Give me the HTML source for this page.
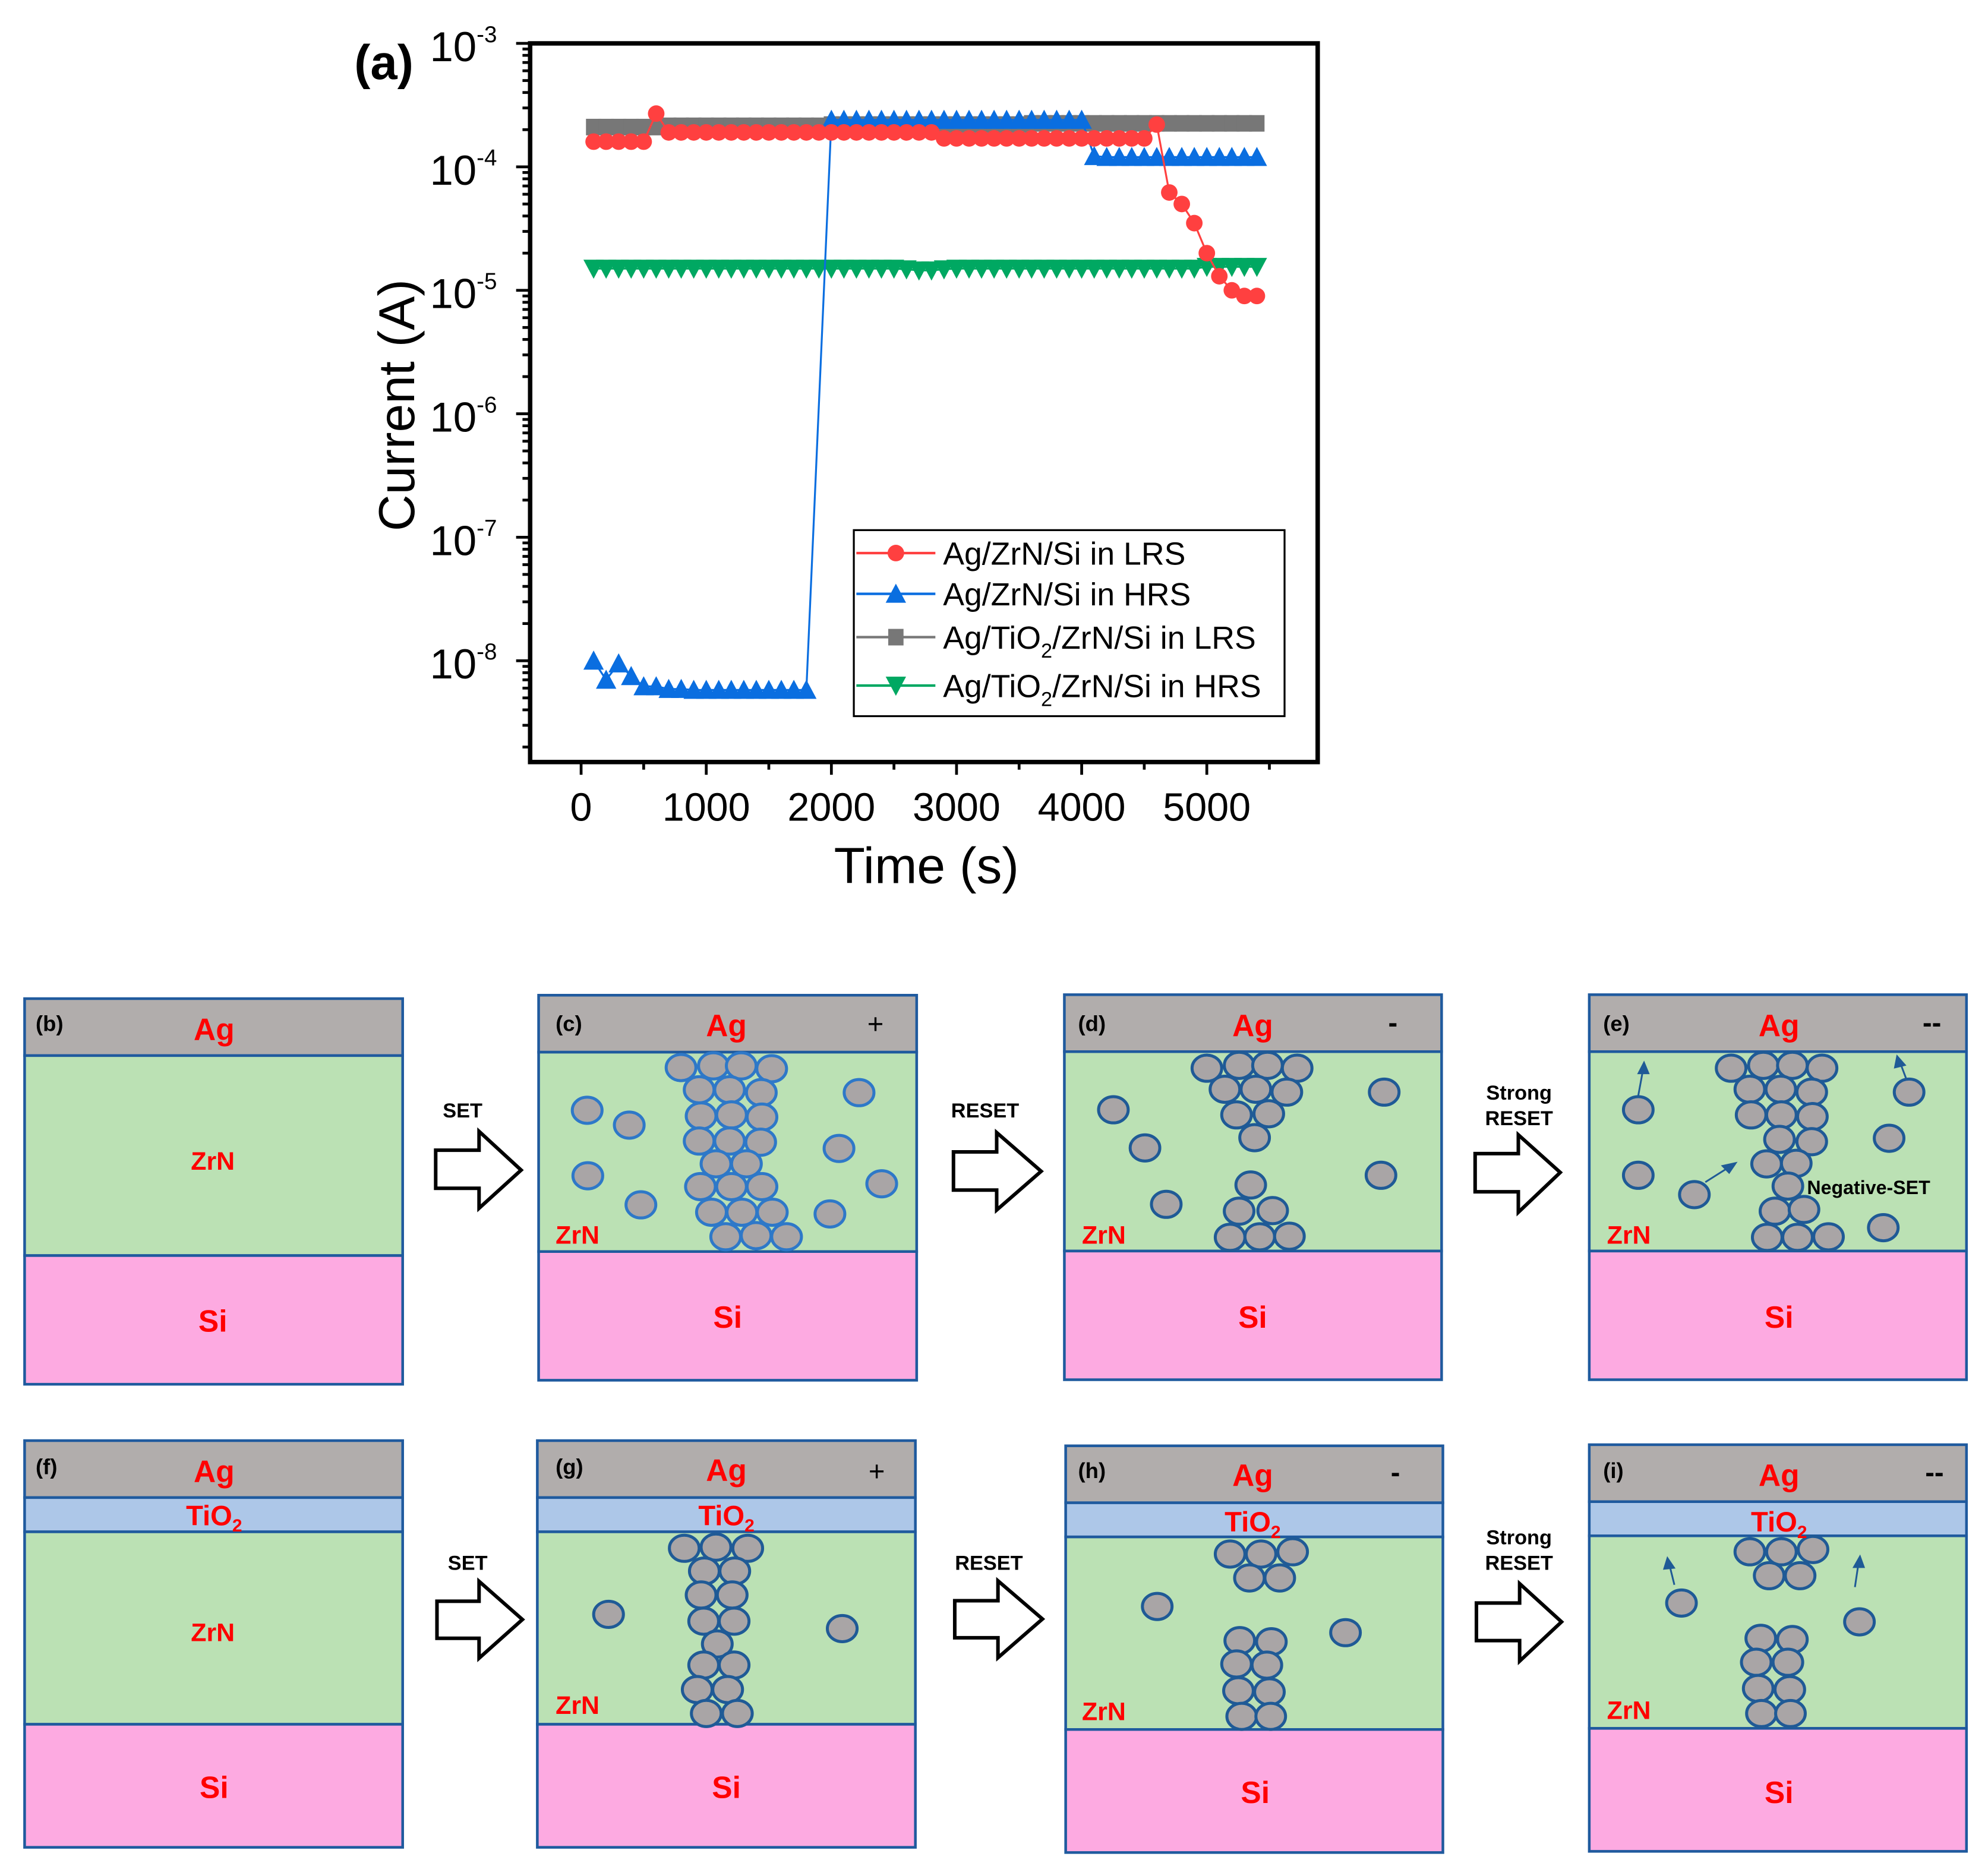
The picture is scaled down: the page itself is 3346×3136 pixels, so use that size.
<!DOCTYPE html>
<html><head><meta charset="utf-8"><style>
html,body{margin:0;padding:0;background:#fff;}
svg{display:block;}
text{font-family:"Liberation Sans",Arial,sans-serif;}
.pb{stroke:#1f5a9e;stroke-width:4.5px;vector-effect:non-scaling-stroke;}
.ar{fill:#fff;stroke:#000;stroke-width:6px;vector-effect:non-scaling-stroke;}
</style></head><body>
<svg id="root" xmlns="http://www.w3.org/2000/svg" width="3346" height="3136" viewBox="0 0 1560 1462">
<rect x="0" y="0" width="1560" height="1462" fill="#fff"/>
<g id="chart"></g>

<g transform="matrix(0.508,0,0,0.447,0,769.4)">
 <g>
  <rect class="pb" x="38" y="32" width="584" height="100" fill="#b1adac"/>
  <rect class="pb" x="38" y="132" width="584" height="351" fill="#bbe1b4"/>
  <rect class="pb" x="38" y="483" width="584" height="226" fill="#fdaae1"/>
 </g>
 <g>
  <rect class="pb" x="832" y="26" width="584" height="100" fill="#b1adac"/>
  <rect class="pb" x="832" y="126" width="584" height="350" fill="#bbe1b4"/>
  <rect class="pb" x="832" y="476" width="584" height="226" fill="#fdaae1"/>
 </g>
 <g>
  <rect class="pb" x="38" y="808" width="584" height="100" fill="#b1adac"/>
  <rect class="pb" x="38" y="908" width="584" height="60" fill="#adc7e8"/>
  <rect class="pb" x="38" y="968" width="584" height="338" fill="#bbe1b4"/>
  <rect class="pb" x="38" y="1306" width="584" height="216" fill="#fdaae1"/>
 </g>
 <g>
  <rect class="pb" x="830" y="808" width="584" height="100" fill="#b1adac"/>
  <rect class="pb" x="830" y="908" width="584" height="60" fill="#adc7e8"/>
  <rect class="pb" x="830" y="968" width="584" height="338" fill="#bbe1b4"/>
  <rect class="pb" x="830" y="1306" width="584" height="216" fill="#fdaae1"/>
 </g>
 <g id="circL"></g>
 <g>
  <path class="ar" d="M673 298 L740 298 L740 265 L805 333 L740 400 L740 365 L673 365 Z"/>
  <path class="ar" d="M675 1090 L740 1090 L740 1055 L807 1122 L740 1190 L740 1155 L675 1155 Z"/>
 </g>
</g>

<g transform="matrix(0.506,0,0,0.447,774,769)">
 <g>
  <rect class="pb" x="121" y="26" width="585" height="100" fill="#b1adac"/>
  <rect class="pb" x="121" y="126" width="585" height="350" fill="#bbe1b4"/>
  <rect class="pb" x="121" y="476" width="585" height="226" fill="#fdaae1"/>
 </g>
 <g>
  <rect class="pb" x="935" y="26" width="585" height="100" fill="#b1adac"/>
  <rect class="pb" x="935" y="126" width="585" height="350" fill="#bbe1b4"/>
  <rect class="pb" x="935" y="476" width="585" height="226" fill="#fdaae1"/>
 </g>
 <g>
  <rect class="pb" x="123" y="818" width="585" height="100" fill="#b1adac"/>
  <rect class="pb" x="123" y="918" width="585" height="60" fill="#adc7e8"/>
  <rect class="pb" x="123" y="978" width="585" height="338" fill="#bbe1b4"/>
  <rect class="pb" x="123" y="1316" width="585" height="216" fill="#fdaae1"/>
 </g>
 <g>
  <rect class="pb" x="935" y="816" width="585" height="100" fill="#b1adac"/>
  <rect class="pb" x="935" y="916" width="585" height="60" fill="#adc7e8"/>
  <rect class="pb" x="935" y="976" width="585" height="338" fill="#bbe1b4"/>
  <rect class="pb" x="935" y="1314" width="585" height="216" fill="#fdaae1"/>
 </g>
 <g id="circR"></g>
 <g stroke="#1f5a96" fill="#1f5a96">
  <line x1="1011" y1="203" x2="1018" y2="160" stroke-width="3px" vector-effect="non-scaling-stroke"/><path d="M1020 143 L1010 165 L1028 165 Z"/>
  <line x1="1427" y1="175" x2="1418" y2="148" stroke-width="3px" vector-effect="non-scaling-stroke"/><path d="M1412 132 L1408 155 L1426 150 Z"/>
  <line x1="1115" y1="355" x2="1150" y2="330" stroke-width="3px" vector-effect="non-scaling-stroke"/><path d="M1164 320 L1140 326 L1152 340 Z"/>
  <line x1="1067" y1="1062" x2="1060" y2="1030" stroke-width="3px" vector-effect="non-scaling-stroke"/><path d="M1056 1013 L1050 1035 L1068 1033 Z"/>
  <line x1="1347" y1="1066" x2="1352" y2="1028" stroke-width="3px" vector-effect="non-scaling-stroke"/><path d="M1355 1010 L1344 1032 L1362 1032 Z"/>
 </g>
 <g>
  <path class="ar" d="M-51 302 L16 302 L16 268 L85 336 L16 404 L16 369 L-51 369 Z"/>
  <path class="ar" d="M-49 1090 L18 1090 L18 1055 L87 1122 L18 1190 L18 1155 L-49 1155 Z"/>
  <path class="ar" d="M758 305 L825 305 L825 272 L890 338 L825 408 L825 372 L758 372 Z"/>
  <path class="ar" d="M760 1094 L827 1094 L827 1060 L892 1127 L827 1196 L827 1160 L760 1160 Z"/>
 </g>
</g>

<g font-weight="bold">
 <g fill="#000" font-size="17">
  <text x="28" y="809">(b)</text><text x="436" y="809">(c)</text><text x="846" y="809">(d)</text><text x="1258" y="809">(e)</text>
  <text x="28" y="1157">(f)</text><text x="436" y="1157">(g)</text><text x="846" y="1160">(h)</text><text x="1258" y="1160">(i)</text>
  <text x="363" y="877" text-anchor="middle" font-size="16">SET</text>
  <text x="367" y="1232" text-anchor="middle" font-size="16">SET</text>
  <text x="773" y="877" text-anchor="middle" font-size="16">RESET</text>
  <text x="776" y="1232" text-anchor="middle" font-size="16">RESET</text>
  <text x="1192" y="863" text-anchor="middle" font-size="16">Strong</text>
  <text x="1192" y="883" text-anchor="middle" font-size="16">RESET</text>
  <text x="1192" y="1212" text-anchor="middle" font-size="16">Strong</text>
  <text x="1192" y="1232" text-anchor="middle" font-size="16">RESET</text>
  <text x="1418" y="937" font-size="15">Negative-SET</text>
  <text x="687" y="811" text-anchor="middle" font-size="22" font-weight="normal">+</text>
  <text x="688" y="1162" text-anchor="middle" font-size="22" font-weight="normal">+</text>
  <text x="1093" y="810" text-anchor="middle" font-size="22">-</text>
  <text x="1095" y="1163" text-anchor="middle" font-size="22">-</text>
  <text x="1516" y="810" text-anchor="middle" font-size="22">--</text>
  <text x="1518" y="1163" text-anchor="middle" font-size="22">--</text>
 </g>
 <g fill="#ff0000" font-size="24" text-anchor="middle">
  <text x="168" y="816">Ag</text><text x="570" y="813">Ag</text><text x="983" y="813">Ag</text><text x="1396" y="813">Ag</text>
  <text x="168" y="1163">Ag</text><text x="570" y="1162">Ag</text><text x="983" y="1166">Ag</text><text x="1396" y="1166">Ag</text>
  <text x="167" y="1045">Si</text><text x="571" y="1042">Si</text><text x="983" y="1042">Si</text><text x="1396" y="1042">Si</text>
  <text x="168" y="1411">Si</text><text x="570" y="1411">Si</text><text x="985" y="1415">Si</text><text x="1396" y="1415">Si</text>
  <text x="167" y="918" font-size="20">ZrN</text><text x="167" y="1288" font-size="20">ZrN</text>
  <text x="168" y="1197" font-size="22">TiO<tspan font-size="14" dy="5">2</tspan></text>
  <text x="570" y="1197" font-size="22">TiO<tspan font-size="14" dy="5">2</tspan></text>
  <text x="983" y="1202" font-size="22">TiO<tspan font-size="14" dy="5">2</tspan></text>
  <text x="1396" y="1202" font-size="22">TiO<tspan font-size="14" dy="5">2</tspan></text>
 </g>
 <g fill="#ff0000" font-size="20">
  <text x="436" y="976">ZrN</text><text x="849" y="976">ZrN</text><text x="1261" y="976">ZrN</text>
  <text x="436" y="1345">ZrN</text><text x="849" y="1350">ZrN</text><text x="1261" y="1349">ZrN</text>
 </g>
</g>
</svg>
<script>
const redTimes=[100,200,300,400,500,600,700,800,900,1000,1100,1200,1300,1400,1500,1600,1700,1800,1900,2000,2100,2200,2300,2400,2500,2600,2700,2800,2900,3000,3100,3200,3300,3400,3500,3600,3700,3800,3900,4000,4100,4200,4300,4400,4500,4600,4700,4800,4900,5000,5100,5200,5300,5400];
const redValues=[1.6e-4,1.6e-4,1.6e-4,1.6e-4,1.6e-4,2.7e-4,1.9e-4,1.9e-4,1.9e-4,1.9e-4,1.9e-4,1.9e-4,1.9e-4,1.9e-4,1.9e-4,1.9e-4,1.9e-4,1.9e-4,1.9e-4,1.9e-4,1.9e-4,1.9e-4,1.9e-4,1.9e-4,1.9e-4,1.9e-4,1.9e-4,1.9e-4,1.7e-4,1.7e-4,1.7e-4,1.7e-4,1.7e-4,1.7e-4,1.7e-4,1.7e-4,1.7e-4,1.7e-4,1.7e-4,1.7e-4,1.7e-4,1.7e-4,1.7e-4,1.7e-4,1.7e-4,2.2e-4,6.2e-5,5.0e-5,3.5e-5,2.0e-5,1.3e-5,1.0e-5,9e-6,9e-6];
const blueTimes=[100,200,300,400,500,600,700,800,900,1000,1100,1200,1300,1400,1500,1600,1700,1800,2000,2100,2200,2300,2400,2500,2600,2700,2800,2900,3000,3100,3200,3300,3400,3500,3600,3700,3800,3900,4000,4100,4200,4300,4400,4500,4600,4700,4800,4900,5000,5100,5200,5300,5400];
const blueValues=[1e-8,7e-9,9.5e-9,7.5e-9,6.2e-9,6.2e-9,5.9e-9,5.9e-9,5.8e-9,5.8e-9,5.8e-9,5.8e-9,5.8e-9,5.8e-9,5.8e-9,5.8e-9,5.8e-9,5.8e-9,2.4e-4,2.4e-4,2.4e-4,2.4e-4,2.4e-4,2.4e-4,2.4e-4,2.4e-4,2.4e-4,2.4e-4,2.4e-4,2.4e-4,2.4e-4,2.4e-4,2.4e-4,2.4e-4,2.4e-4,2.4e-4,2.4e-4,2.4e-4,2.4e-4,1.22e-4,1.2e-4,1.2e-4,1.2e-4,1.2e-4,1.2e-4,1.2e-4,1.2e-4,1.2e-4,1.2e-4,1.2e-4,1.2e-4,1.2e-4,1.2e-4];
const grayTimes=redTimes;
const grayValues=[2.1e-4,2.1e-4,2.1e-4,2.1e-4,2.1e-4,2.1e-4,2.15e-4,2.15e-4,2.15e-4,2.15e-4,2.15e-4,2.15e-4,2.15e-4,2.15e-4,2.15e-4,2.15e-4,2.15e-4,2.15e-4,2.15e-4,2.2e-4,2.2e-4,2.2e-4,2.2e-4,2.2e-4,2.2e-4,2.2e-4,2.2e-4,2.2e-4,2.2e-4,2.2e-4,2.2e-4,2.2e-4,2.2e-4,2.2e-4,2.2e-4,2.25e-4,2.25e-4,2.25e-4,2.25e-4,2.25e-4,2.25e-4,2.25e-4,2.25e-4,2.25e-4,2.25e-4,2.25e-4,2.25e-4,2.25e-4,2.25e-4,2.25e-4,2.25e-4,2.25e-4,2.25e-4,2.25e-4];
const greenTimes=redTimes;
const greenValues=[1.5e-5,1.5e-5,1.5e-5,1.5e-5,1.5e-5,1.5e-5,1.5e-5,1.5e-5,1.5e-5,1.5e-5,1.5e-5,1.5e-5,1.5e-5,1.5e-5,1.5e-5,1.5e-5,1.5e-5,1.5e-5,1.5e-5,1.5e-5,1.5e-5,1.5e-5,1.5e-5,1.5e-5,1.5e-5,1.48e-5,1.45e-5,1.45e-5,1.48e-5,1.5e-5,1.5e-5,1.5e-5,1.5e-5,1.5e-5,1.5e-5,1.5e-5,1.5e-5,1.5e-5,1.5e-5,1.5e-5,1.5e-5,1.5e-5,1.5e-5,1.5e-5,1.5e-5,1.5e-5,1.5e-5,1.5e-5,1.5e-5,1.55e-5,1.55e-5,1.55e-5,1.55e-5,1.55e-5];
const xTickValues=[0,1000,2000,3000,4000,5000];
const xTickLabels=["0","1000","2000","3000","4000","5000"];
const yTickExps=[-3,-4,-5,-6,-7,-8];
const legendLabels=["Ag/ZrN/Si in LRS","Ag/ZrN/Si in HRS","Ag/TiO2/ZrN/Si in LRS","Ag/TiO2/ZrN/Si in HRS"];

const NS="http://www.w3.org/2000/svg";
const L=416,R=1034,T=34,B=598;
function X(t){return 456+t*0.0982;}
function Y(v){return T+(-3-Math.log10(v))*96.9;}
function mk(tag,attrs,parent){const e=document.createElementNS(NS,tag);for(const k in attrs)e.setAttribute(k,attrs[k]);parent.appendChild(e);return e;}
const chart=document.getElementById('chart');

const axes=mk('g',{},chart);


for(let e=-3;e>=-9;e--){
  for(let m=1;m<=9;m++){
    const y=Y(m*Math.pow(10,e));
    if(y<T-0.5||y>B)continue;
    mk('line',{x1:L,x2:L-(m===1?11:6),y1:y,y2:y,stroke:'#000','stroke-width':2.2},axes);
  }
}
for(let t=0;t<=5500;t+=500){
  const x=X(t);
  mk('line',{x1:x,x2:x,y1:B,y2:B+(t%1000===0?10:6),stroke:'#000','stroke-width':2.2},axes);
}
xTickValues.forEach((t,i)=>{
  const tx=mk('text',{x:X(t),y:644,'text-anchor':'middle','font-size':31},axes);
  tx.textContent=xTickLabels[i];
  
  
});
yTickExps.forEach(e=>{
  const ty=Y(Math.pow(10,e));
  const tx=mk('text',{x:374,y:ty+14,'text-anchor':'end','font-size':33},axes);
  tx.textContent='10';
  
  
  const s=mk('text',{x:374,y:ty-1,'font-size':18},axes);
  s.textContent=String(e);
  
  
});
mk('rect',{x:L,y:T,width:R-L,height:B-T,fill:'none',stroke:'#000','stroke-width':3.5},axes);
const yt=mk('text',{x:0,y:0,'font-size':40,'text-anchor':'middle',transform:'translate(325,318) rotate(-90)'},chart);
yt.textContent='Current (A)';


const xt=mk('text',{x:727,y:693,'font-size':40,'text-anchor':'middle'},chart);
xt.textContent='Time (s)';


const pa=mk('text',{x:278,y:62,'font-size':38,'font-weight':'bold'},chart);
pa.textContent='(a)';



function marker(kind,x,y,color,g){
  if(kind==='circle')return mk('circle',{cx:x,cy:y,r:6.5,fill:color},g);
  if(kind==='square')return mk('rect',{x:x-6,y:y-6.5,width:12,height:13,fill:color},g);
  if(kind==='up')return mk('path',{d:'M'+(x-8)+' '+(y+7)+' L'+x+' '+(y-8)+' L'+(x+8)+' '+(y+7)+' Z',fill:color},g);
  return mk('path',{d:'M'+(x-8)+' '+(y-7)+' L'+x+' '+(y+8)+' L'+(x+8)+' '+(y-7)+' Z',fill:color},g);
}
function series(name,times,vals,color,kind){
  const g=mk('g',{},chart);
  
  
  const pts=times.map((t,i)=>X(t)+','+Y(vals[i])).join(' ');
  mk('polyline',{points:pts,fill:'none',stroke:color,'stroke-width':1.5},g);
  times.forEach((t,i)=>{
    const m=marker(kind,X(t),Y(vals[i]),color,g);
    
    
  });
}
series('series-tio2-lrs',grayTimes,grayValues,'#777777','square');
series('series-tio2-hrs',greenTimes,greenValues,'#00a862','down');
series('series-zrn-hrs',blueTimes,blueValues,'#0a6ee0','up');
series('series-zrn-lrs',redTimes,redValues,'#ff4040','circle');

const lg=mk('g',{},chart);


mk('rect',{x:670,y:416,width:338,height:146,fill:'#fff',stroke:'#000','stroke-width':1.5},lg);
const legY=[434,466,500,538],legC=['#ff4040','#0a6ee0','#777777','#00a862'],legK=['circle','up','square','down'];
legendLabels.forEach((lab,i)=>{
  const e=mk('g',{},lg);
  
  
  mk('line',{x1:672,x2:734,y1:legY[i],y2:legY[i],stroke:legC[i],'stroke-width':2},e);
  marker(legK[i],703,legY[i],legC[i],e);
  const tx=mk('text',{x:740,y:legY[i]+9,'font-size':25},e);
  const parts=lab.split('TiO2');
  if(parts.length>1){
    tx.appendChild(document.createTextNode(parts[0]+'TiO'));
    const s=mk('tspan',{'font-size':16,dy:7},tx);s.textContent='2';
    const r=mk('tspan',{dy:-7},tx);r.textContent=parts[1];
  } else tx.textContent=lab;
});

const partsLeft=[[1052,153],[1102,150],[1145,150],[1192,155],[1080,192],[1127,192],[1176,197],[1083,238],[1130,236],[1177,240],[1080,282],[1127,282],[1175,284],[1106,322],[1153,322],[1082,362],[1130,362],[1177,362],[1099,407],[1146,407],[1193,407],[1121,450],[1168,448],[1215,450],[907,228],[972,254],[908,343],[990,394],[1327,197],[1296,295],[1362,357],[1282,410]];
const partsG=[[1057,997],[1106,995],[1155,997],[1088,1037],[1135,1037],[1083,1079],[1131,1079],[1087,1125],[1134,1125],[1108,1165],[1087,1202],[1134,1202],[1077,1245],[1124,1245],[1091,1287],[1139,1287],[940,1113],[1301,1138]];
const partsRight=[[342,155],[392,150],[436,150],[482,155],[370,192],[418,192],[466,197],[388,237],[438,235],[416,277],[410,360],[392,406],[444,405],[378,452],[424,451],[470,450],[197,228],[246,295],[279,394],[617,197],[612,343],
[1155,155],[1205,150],[1250,150],[1296,155],[1184,192],[1232,192],[1280,197],[1186,237],[1233,237],[1281,240],[1230,280],[1280,284],[1210,323],[1256,322],[1243,362],[1223,406],[1268,403],[1211,452],[1258,452],[1306,451],[1011,228],[1011,343],[1098,377],[1431,197],[1400,278],[1391,435],
[378,1008],[426,1008],[475,1004],[408,1050],[455,1050],[393,1160],[442,1162],[388,1201],[435,1203],[391,1248],[439,1250],[396,1293],[441,1293],[265,1100],[557,1146],
[1184,1004],[1233,1004],[1282,1000],[1214,1046],[1262,1046],[1201,1156],[1250,1158],[1194,1198],[1243,1198],[1197,1244],[1246,1246],[1202,1288],[1247,1288],[1078,1094],[1354,1127]];
function drawParts(id,list,stroke){
  const g=document.getElementById(id);
  list.forEach(p=>{
    const c=mk('circle',{cx:p[0],cy:p[1],r:23,fill:'#a9a5a6',stroke:stroke,style:'stroke-width:5px;vector-effect:non-scaling-stroke'},g);
    
    
  });
}
drawParts('circL',partsLeft,'#2e78c8');
drawParts('circL',partsG,'#1f5a96');
drawParts('circR',partsRight,'#1f5a96');
</script>
</body></html>
